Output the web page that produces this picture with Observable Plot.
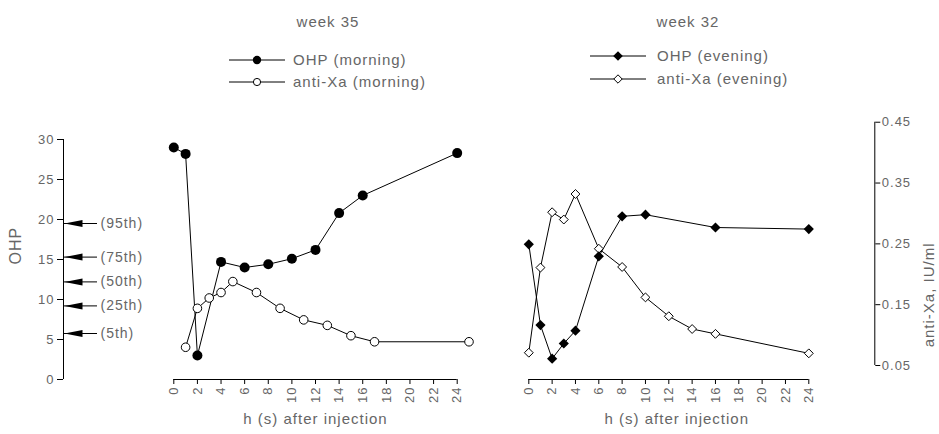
<!DOCTYPE html>
<html><head><meta charset="utf-8">
<script src="https://cdn.jsdelivr.net/npm/d3@7"></script>
<script src="https://cdn.jsdelivr.net/npm/@observablehq/plot@0.6"></script>
<style>
body{margin:0;background:#fff;}
#wrap{width:939px;font-family:"Liberation Sans",Arial,sans-serif;color:#666;}
#legend{position:relative;width:939px;height:100px;}
#legend .t{position:absolute;font-size:15px;letter-spacing:1px;line-height:18px;white-space:nowrap;}
#legend svg{position:absolute;overflow:visible;}
#plots{display:flex;width:939px;}
</style></head><body>
<div id="wrap"><div id="legend"></div><div id="plots"></div></div>
<script>
// ---------- data ----------
const ohpTicks = [0, 5, 10, 15, 20, 25, 30];
const antiXaTicks = [0.05, 0.15, 0.25, 0.35, 0.45];
const hourTicks = [0, 2, 4, 6, 8, 10, 12, 14, 16, 18, 20, 22, 24];

const percentileLabels = ["(95th)", "(75th)", "(50th)", "(25th)", "(5th)"];
const percentileValues = [19.5, 15.3, 12.2, 9.2, 5.75];

const morningOhpHours = [0, 1, 2, 4, 6, 8, 10, 12, 14, 16, 24];
const morningOhpValues = [29.0, 28.2, 3.0, 14.7, 14.0, 14.4, 15.1, 16.2, 20.8, 23.0, 28.3];
const morningAntiXaHours = [1, 2, 3, 4, 5, 7, 9, 11, 13, 15, 17, 25];
const morningAntiXaValues = [0.080, 0.144, 0.161, 0.170, 0.188, 0.170, 0.144, 0.125, 0.116, 0.099, 0.089, 0.089];

const eveningOhpHours = [0, 1, 2, 3, 4, 6, 8, 10, 16, 24];
const eveningOhpValues = [16.9, 6.8, 2.6, 4.5, 6.1, 15.4, 20.4, 20.6, 19.0, 18.8];
const eveningAntiXaHours = [0, 1, 2, 3, 4, 6, 8, 10, 12, 14, 16, 24];
const eveningAntiXaValues = [0.071, 0.211, 0.302, 0.290, 0.332, 0.242, 0.212, 0.162, 0.131, 0.110, 0.102, 0.070];

const titles = ["week 35", "week 32"];
const legendLabels = ["OHP (morning)", "anti-Xa (morning)", "OHP (evening)", "anti-Xa (evening)"];
const xLabel = "h (s) after injection";
const yLeftLabel = "OHP";
const yRightLabel = "anti-Xa, IU/ml";

// ---------- helpers ----------
const rows = (hs, vs) => hs.map((h, i) => ({h, v: vs[i]}));
const percentiles = percentileLabels.map((label, i) => ({label, v: percentileValues[i]}));
// anti-Xa axis expressed in OHP units (right axis alignment)
const antiToOhp = d3.scaleLinear([0.05, 0.45], [1.75, 32.16]);

const TEXT = "#666";
const FONT = "'Liberation Sans', Arial, sans-serif";
const svgStyle = `font-family:${FONT};letter-spacing:1px;background:white;overflow:visible;color:black;`;

const arrowHead = {
  draw(ctx) { ctx.moveTo(-9, 0); ctx.lineTo(9, -3.5); ctx.lineTo(9, 3.5); ctx.closePath(); }
};

const W = 939, H = 334, leftW = 520, rightW = W - leftW;
const xL = d3.scaleLinear([0, 24], [173.3, 456.7]);
const xR = d3.scaleLinear([0, 24], [8.3, 288.3]);

function panelMarks(ohp, anti, filledSymbol, openSymbol, ohpR, antiR, labelDx) {
  return [
    Plot.ruleY([0], {x1: () => 0, x2: () => 24, stroke: "black"}),
    Plot.axisX({anchor: "bottom", ticks: hourTicks, tickSize: 5, tickPadding: 2, tickRotate: -90,
      tickFormat: d => String(d), stroke: "black", fill: TEXT, fontSize: 13, label: null}),
    Plot.line(anti, {x: "h", y: d => antiToOhp(d.v), stroke: "black", strokeWidth: 1}),
    Plot.line(ohp, {x: "h", y: "v", stroke: "black", strokeWidth: 1}),
    Plot.dot(anti, {x: "h", y: d => antiToOhp(d.v), symbol: openSymbol, r: antiR, fill: "white", stroke: "black", strokeWidth: 1}),
    Plot.dot(ohp, {x: "h", y: "v", symbol: filledSymbol, r: ohpR, fill: "black", stroke: "none"}),
    Plot.text([xLabel], {x: () => 12, text: d => d, frameAnchor: "bottom", dy: 44, dx: labelDx, fontSize: 15, fill: TEXT})
  ];
}

const left = Plot.plot({
  width: leftW, height: H, marginLeft: 63, marginRight: 0, marginTop: 39, marginBottom: 55,
  style: svgStyle,
  x: {domain: xL.domain(), range: xL.range(), axis: null},
  y: {domain: [0, 30], axis: null},
  marks: [
    Plot.ruleX([xL.invert(63)], {y1: () => 0, y2: () => 30, stroke: "black"}),
    Plot.axisY({anchor: "left", ticks: ohpTicks, tickSize: 6, tickPadding: 3, tickFormat: d => String(d),
      stroke: "black", fill: TEXT, fontSize: 13, label: null}),
    Plot.ruleY(percentiles, {y: "v", x1: () => xL.invert(63), x2: () => xL.invert(97), stroke: "black"}),
    Plot.dot(percentiles, {y: "v", x: () => xL.invert(73), symbol: arrowHead, fill: "black", stroke: "none"}),
    Plot.text(percentiles, {y: "v", x: () => xL.invert(100), text: "label", textAnchor: "start", fontSize: 14, fill: TEXT}),
    Plot.text([yLeftLabel], {text: d => d, frameAnchor: "left", dx: -48, dy: 5, rotate: -90, fontSize: 16, fill: TEXT}),
    ...panelMarks(rows(morningOhpHours, morningOhpValues), rows(morningAntiXaHours, morningAntiXaValues),
      "circle", "circle", 5, 4.3, 0)
  ]
});

const right = Plot.plot({
  width: rightW, height: H, marginLeft: 0, marginRight: rightW - 354.3, marginTop: 39, marginBottom: 55,
  style: svgStyle,
  x: {domain: xR.domain(), range: xR.range(), axis: null},
  y: {domain: [0, 30], axis: null},
  marks: [
    Plot.ruleX([xR.invert(354.3)], {y1: () => antiToOhp(0.05), y2: () => antiToOhp(0.45), stroke: "black"}),
    Plot.axisY({anchor: "right", ticks: antiXaTicks.map(antiToOhp), tickSize: 5, tickPadding: 2,
      tickFormat: d => antiToOhp.invert(d).toFixed(2), stroke: "black", fill: TEXT, fontSize: 13, label: null}),
    Plot.text([yRightLabel], {text: d => d, frameAnchor: "right", dx: 54, dy: -17, rotate: -90, fontSize: 15, fill: TEXT}),
    ...panelMarks(rows(eveningOhpHours, eveningOhpValues), rows(eveningAntiXaHours, eveningAntiXaValues),
      "diamond2", "diamond2", 4.6, 4.0, 8)
  ]
});

const plots = document.getElementById("plots");
plots.append(left, right);

// ---------- legend (above the plots) ----------
const legend = document.getElementById("legend");
function addText(str, x, cy, centered) {
  const d = document.createElement("div");
  d.className = "t";
  d.textContent = str;
  d.style.left = x + "px";
  d.style.top = (cy - 9) + "px";
  if (centered) d.style.transform = "translateX(-50%)";
  legend.append(d);
}
function addSwatch(x, cy, w, kind, filled) {
  const ns = "http://www.w3.org/2000/svg";
  const s = document.createElementNS(ns, "svg");
  s.setAttribute("width", w); s.setAttribute("height", 14);
  s.style.left = x + "px"; s.style.top = (cy - 7) + "px";
  const l = document.createElementNS(ns, "line");
  l.setAttribute("x1", 0); l.setAttribute("x2", w); l.setAttribute("y1", 7); l.setAttribute("y2", 7);
  l.setAttribute("stroke", "black");
  s.append(l);
  const c = w / 2;
  let m;
  if (kind === "circle") {
    m = document.createElementNS(ns, "circle");
    m.setAttribute("cx", c); m.setAttribute("cy", 7); m.setAttribute("r", filled ? 4.2 : 3.6);
  } else {
    const r = filled ? 4.8 : 4.2;
    m = document.createElementNS(ns, "path");
    m.setAttribute("d", `M${c},${7 - r}L${c + r},7L${c},${7 + r}L${c - r},7Z`);
  }
  m.setAttribute("fill", filled ? "black" : "white");
  m.setAttribute("stroke", filled ? "none" : "black");
  s.append(m);
  legend.append(s);
}
addText(titles[0], 328, 22, true);
addText(titles[1], 688, 22, true);
addSwatch(229, 60, 56, "circle", true);  addText(legendLabels[0], 293, 60);
addSwatch(229, 82, 56, "circle", false); addText(legendLabels[1], 293, 82);
addSwatch(590, 56, 56, "diamond", true);  addText(legendLabels[2], 657, 56);
addSwatch(590, 79, 56, "diamond", false); addText(legendLabels[3], 657, 79);
</script>
</body></html>
